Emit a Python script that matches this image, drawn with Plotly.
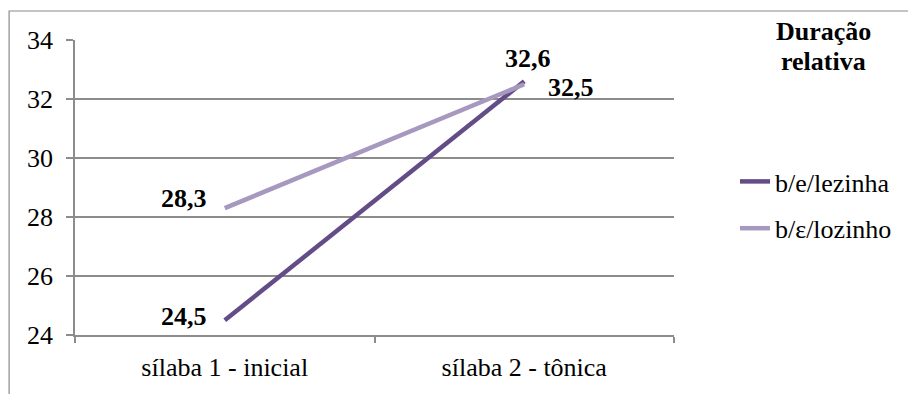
import plotly.graph_objects as go

# Relative syllable duration for the two words
categories = ["sílaba 1 - inicial", "sílaba 2 - tônica"]
series_names = ["b/e/lezinha", "b/ε/lozinho"]
belezinha = [24.5, 32.6]
belozinho = [28.3, 32.5]
y_ticks = [24, 26, 28, 30, 32, 34]
title_lines = ["Duração", "relativa"]

colors = ["#634C88", "#A698BE"]
grid = "#8C8C8C"
font_family = "Liberation Serif"

# Label placement per series point: (xanchor, xshift, yshift)
label_style = [
    [("right", -16, 4), ("center", 4, 23)],
    [("right", -16, 10), ("left", 22, -3)],
]


def fmt(v):
    return f"{v:.1f}".replace(".", ",")


fig = go.Figure()
for i, (name, vals) in enumerate(zip(series_names, [belezinha, belozinho])):
    fig.add_trace(go.Scatter(
        x=categories, y=vals, name=name, mode="lines",
        line=dict(color=colors[i], width=4.5),
        legendgroup=name,
    ))

annotations = []
for i, vals in enumerate([belezinha, belozinho]):
    for j, v in enumerate(vals):
        xa, xs, ys = label_style[i][j]
        annotations.append(dict(
            x=categories[j], y=v, xref="x", yref="y", text=f"<b>{fmt(v)}</b>",
            showarrow=False, xanchor=xa, yanchor="middle", xshift=xs, yshift=ys,
            font=dict(family=font_family, size=26, color="black"),
        ))

# Legend heading, one annotation per line for tighter line spacing
for k, line in enumerate(title_lines):
    annotations.append(dict(
        x=1.25, y=(335 - 32 - 29 * k) / 295, xref="paper", yref="paper",
        text=f"<b>{line}</b>", showarrow=False,
        xanchor="center", yanchor="middle",
        font=dict(family=font_family, size=26, color="black"),
    ))

fig.update_layout(
    width=908, height=394,
    margin=dict(l=75, r=233, t=40, b=59),
    paper_bgcolor="white", plot_bgcolor="white",
    font=dict(family=font_family, size=26, color="black"),
    showlegend=True,
    legend=dict(
        x=1.10, y=0.60, xanchor="left", yanchor="top",
        font=dict(family=font_family, size=26, color="black"),
        tracegroupgap=10, itemwidth=30,
        bgcolor="rgba(0,0,0,0)",
    ),
    annotations=annotations,
    shapes=[dict(
        type="rect", xref="paper", yref="paper",
        x0=(9 - 75) / 600, x1=1.6, y0=-0.6, y1=(335 - 11) / 295,
        line=dict(color="#8A8A8A", width=1.2), fillcolor="rgba(0,0,0,0)",
        layer="below",
    )],
)

fig.update_xaxes(
    type="category", range=[-0.5, 1.5],
    showline=True, linecolor=grid, linewidth=1.5,
    ticks="outside", tickson="boundaries", ticklen=6, tickcolor=grid, tickwidth=1.5,
    showgrid=False, tickfont=dict(family=font_family, size=26), ticklabelstandoff=8,
)
fig.update_yaxes(
    range=[24, 34], tickvals=y_ticks,
    showline=True, linecolor=grid, linewidth=1.5,
    ticks="outside", ticklen=7, tickcolor=grid, tickwidth=1.5,
    showgrid=True, gridcolor=grid, gridwidth=1.5,
    zeroline=False, tickfont=dict(family=font_family, size=26), ticklabelstandoff=8,
)

fig.write_html("out.html")
